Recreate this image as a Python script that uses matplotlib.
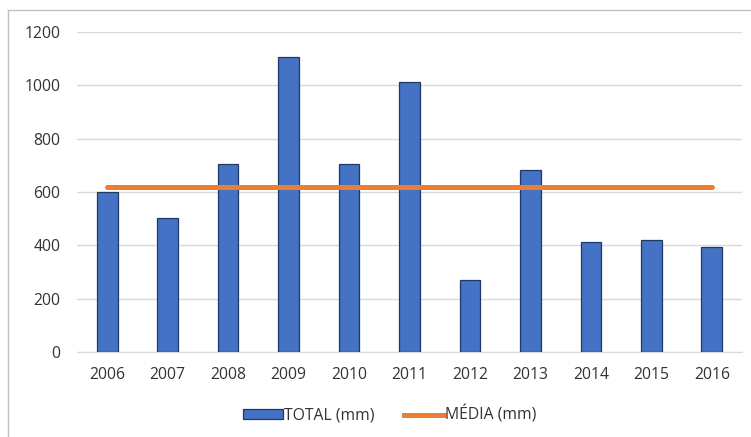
import matplotlib
matplotlib.use("Agg")
import matplotlib.pyplot as plt
from matplotlib.patches import Rectangle
from matplotlib.lines import Line2D

years = ["2006", "2007", "2008", "2009", "2010", "2011", "2012", "2013", "2014", "2015", "2016"]
total_mm = [600, 502, 705, 1107, 705, 1011, 271, 681, 412, 421, 394]
media_mm = [617] * len(years)
yticks = [0, 200, 400, 600, 800, 1000, 1200]

plt.rcParams['font.family'] = ['Open Sans', 'DejaVu Sans']
txt = '#333333'
fs = 11.3

fig = plt.figure(figsize=(7.51, 4.37), dpi=100)
fig.patch.set_facecolor('white')

# chart frame border (partially visible)
fig.add_artist(Line2D([8/751, 8/751], [0, 1 - 10/437], color='#bfbfbf', lw=1))
fig.add_artist(Line2D([8/751, 1], [1 - 10/437, 1 - 10/437], color='#bfbfbf', lw=1))

ax = fig.add_axes([77/751, 1 - 352/437, (742 - 77)/751, (352 - 32)/437])
x = list(range(len(years)))
ax.bar(x, total_mm, width=0.34, color='#4472C4', edgecolor='#203864', linewidth=0.9, zorder=3,
       label='TOTAL (mm)')
ax.plot(x, media_mm, color='#ED7D31', lw=3.6, zorder=4, solid_capstyle='round', label='MÉDIA (mm)')

ax.set_xlim(-0.5, len(years) - 0.5)
ax.set_ylim(0, 1200)
ax.set_yticks(yticks)
ax.set_xticks(x)
ax.set_xticklabels(years)
ax.yaxis.grid(True, color='#d9d9d9', lw=1, zorder=0)
for s in ['top', 'right', 'left']:
    ax.spines[s].set_visible(False)
ax.spines['bottom'].set_color('#d9d9d9')
ax.tick_params(axis='both', length=0, labelsize=fs, colors=txt)
ax.tick_params(axis='x', pad=11)
ax.tick_params(axis='y', pad=12)

handles = [Rectangle((0, 0), 1, 1, facecolor='#4472C4', edgecolor='#203864', linewidth=0.9),
           Line2D([], [], color='#ED7D31', lw=3.6)]
leg = fig.legend(handles, ['TOTAL (mm)', 'MÉDIA (mm)'], loc='center', bbox_to_anchor=(390/751, 1 - 415/437),
                 ncol=2, frameon=False, fontsize=fs, handlelength=2.5, handleheight=0.6,
                 columnspacing=1.9, handletextpad=0.1)
for t in leg.get_texts():
    t.set_color(txt)

fig.savefig('out.png', dpi=100)
